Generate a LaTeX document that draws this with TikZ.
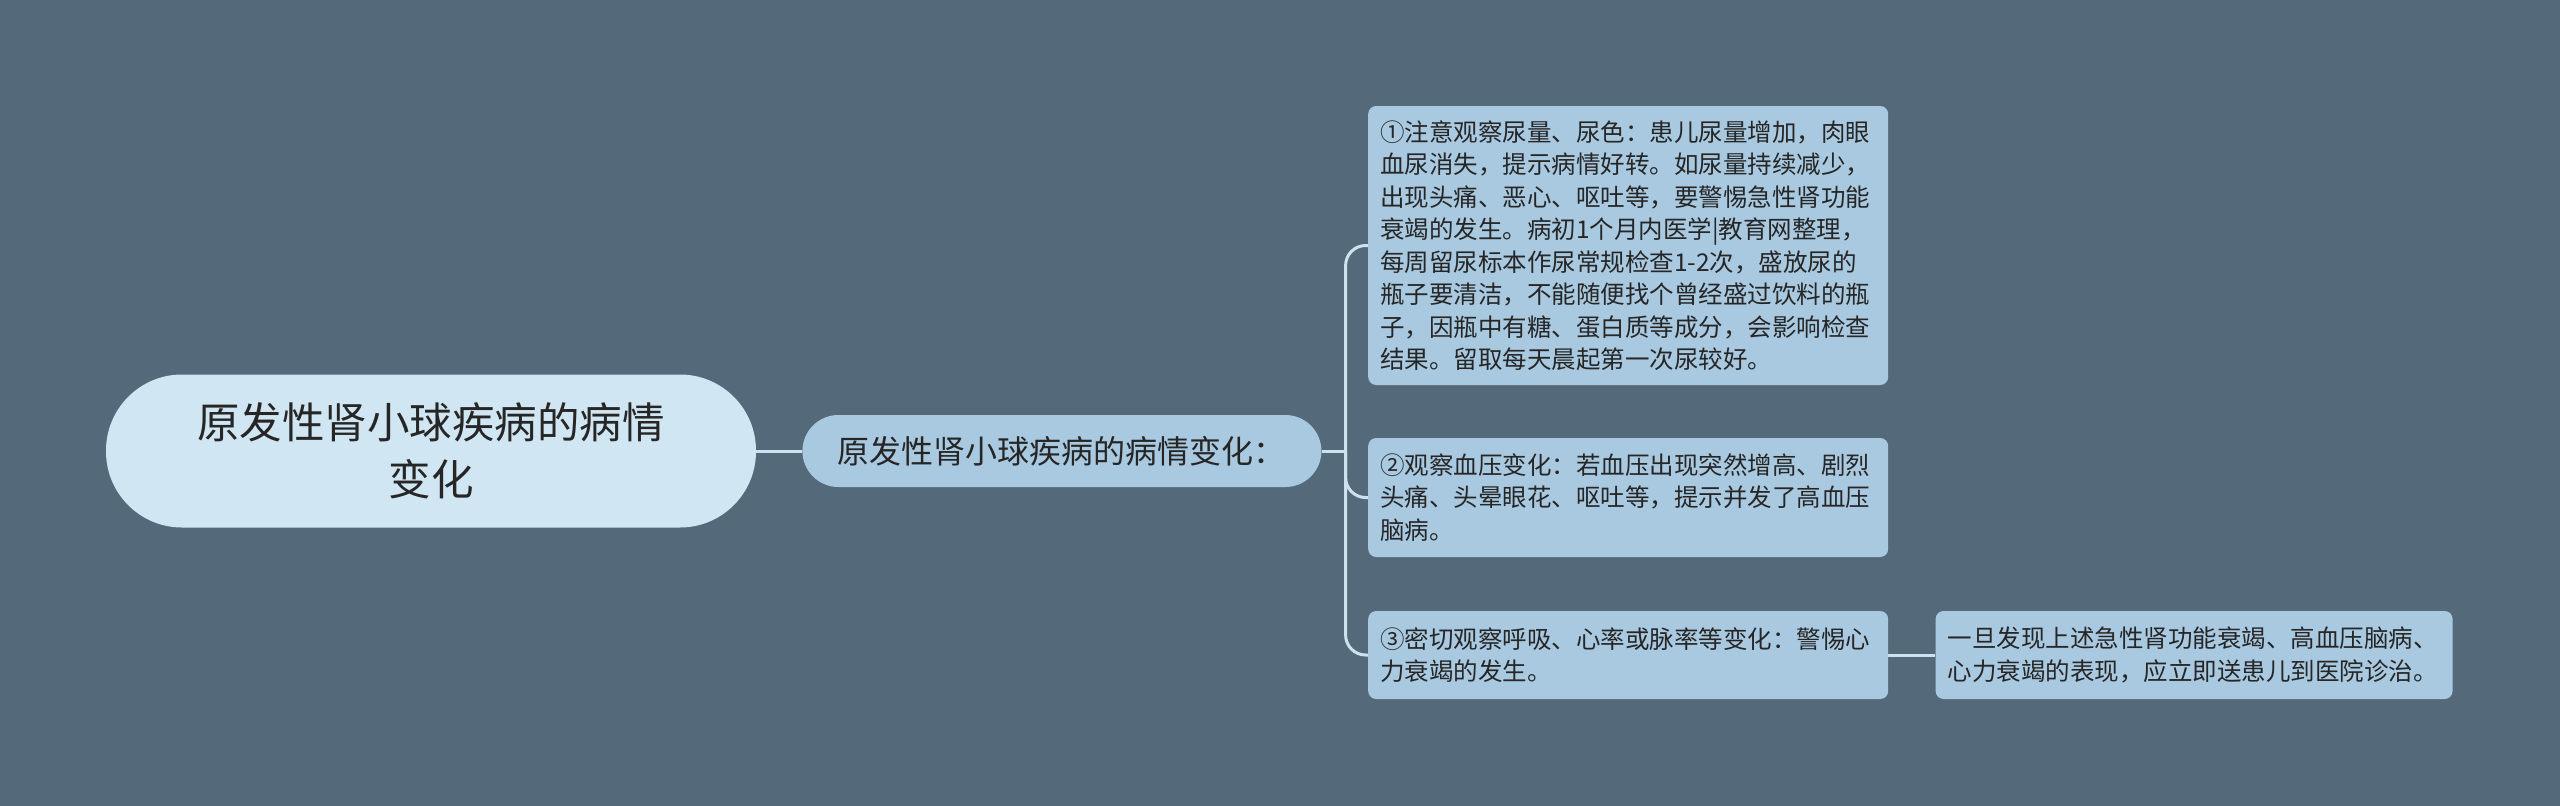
\documentclass[tikz,border=0pt]{standalone}
\usepackage{fontspec}
\setmainfont{Noto Sans CJK SC}
\usetikzlibrary{positioning}
\definecolor{bgcol}{HTML}{546A7A}
\definecolor{rootcol}{HTML}{D0E6F2}
\definecolor{boxcol}{HTML}{A9C9E0}
\definecolor{linecol}{HTML}{CDE2EE}
\definecolor{txtcol}{HTML}{262626}

\begin{document}
\begin{tikzpicture}[x=1pt,y=-1pt,
    leaf/.style={fill=boxcol,rounded corners=8pt,text=txtcol,align=left,anchor=west,
      text width=496pt,inner xsep=12pt,inner ysep=0pt,font=\fontsize{24.5}{32.5}\selectfont},
    link/.style={draw=linecol,line width=3pt}]
  \fill[bgcol] (0,0) rectangle (2560,806);
  \useasboundingbox (0,0) rectangle (2560,806);

  \node [fill=rootcol,rounded corners=76pt,minimum width=650pt,minimum height=153pt,inner sep=0pt,
    text=txtcol,align=center,font=\fontsize{42.5}{57}\selectfont] (root) at (431,451)
    {原发性肾小球疾病的病情\\变化};
  \node [fill=boxcol,rounded corners=36pt,minimum width=519pt,minimum height=72pt,inner sep=0pt,
    text=txtcol,font=\fontsize{32}{38}\selectfont,right=46pt of root] (sub)
    {原发性肾小球疾病的病情变化：};

  \node [leaf,minimum height=279pt] (obs1) at (1368,245.5)
    {①注意观察尿量、尿色：患儿尿量增加，肉眼\\
     血尿消失，提示病情好转。如尿量持续减少，\\
     出现头痛、恶心、呕吐等，要警惕急性肾功能\\
     衰竭的发生。病初1个月内医学|教育网整理，\\
     每周留尿标本作尿常规检查1-2次，盛放尿的\\
     瓶子要清洁，不能随便找个曾经盛过饮料的瓶\\
     子，因瓶中有糖、蛋白质等成分，会影响检查\\
     结果。留取每天晨起第一次尿较好。};
  \node [leaf,minimum height=119pt] (obs2) at (1368,497.5)
    {②观察血压变化：若血压出现突然增高、剧烈\\
     头痛、头晕眼花、呕吐等，提示并发了高血压\\
     脑病。};
  \node [leaf,minimum height=88pt] (obs3) at (1368,655)
    {③密切观察呼吸、心率或脉率等变化：警惕心\\
     力衰竭的发生。};
  \node [leaf,minimum height=88pt,text width=493pt,right=47pt of obs3] (act)
    {一旦发现上述急性肾功能衰竭、高血压脑病、\\
     心力衰竭的表现，应立即送患儿到医院诊治。};

  \coordinate (fork) at ([xshift=24pt]sub.east);
  \draw[link] (root) -- (sub);
  \draw[link] (sub.east) -- (fork);
  \draw[link,rounded corners=20pt] (fork) |- (obs1.west);
  \draw[link,rounded corners=20pt] (fork) |- (obs2.west);
  \draw[link,rounded corners=20pt] (fork) |- (obs3.west);
  \draw[link] (obs3) -- (act);
\end{tikzpicture}
\end{document}
